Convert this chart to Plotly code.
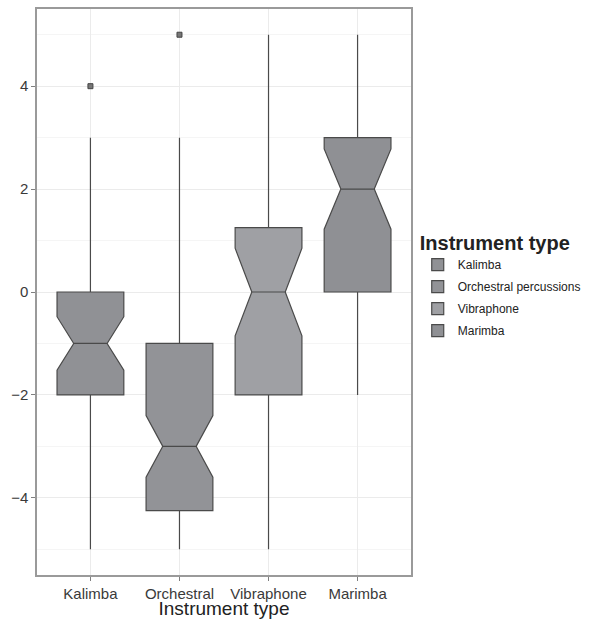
import plotly.graph_objects as go

categories = ["Kalimba", "Orchestral", "Vibraphone", "Marimba"]
legend_names = ["Kalimba", "Orchestral percussions", "Vibraphone", "Marimba"]
q1 = [-2, -4.25, -2, 0]
median = [-1, -3, 0, 2]
q3 = [0, -1, 1.25, 3]
lower = [-5, -5, -5, -2]
upper = [3, 3, 5, 5]
notchspan = [0.52, 0.6, 0.85, 0.78]
outlier_cat = ["Kalimba", "Orchestral"]
outlier_val = [4, 5]
fills = ["#909195", "#929397", "#9fa0a4", "#8f9094"]

fig = go.Figure()
for i, c in enumerate(categories):
    fig.add_trace(go.Box(
        x=[c], q1=[q1[i]], median=[median[i]], q3=[q3[i]],
        lowerfence=[lower[i]], upperfence=[upper[i]], notchspan=[notchspan[i]],
        notched=True, notchwidth=0.25, width=0.75, whiskerwidth=0,
        name=legend_names[i], legendgroup=f"g{i}", fillcolor=fills[i],
        line=dict(color="#4a4a4a", width=1.2), boxpoints=False,
    ))

fig.add_trace(go.Scatter(
    x=outlier_cat, y=outlier_val, mode="markers", showlegend=False,
    marker=dict(symbol="square", size=5, color="#777777",
                line=dict(color="#444444", width=1)),
    hoverinfo="skip",
))

fig.update_layout(
    width=595, height=619,
    margin=dict(l=37, r=184, t=9, b=44),
    plot_bgcolor="white", paper_bgcolor="white",
    font=dict(family="Liberation Sans, Arial, sans-serif", color="#4d4d4d"),
    showlegend=True,
    legend=dict(
        title=dict(text="<b>Instrument type</b>", font=dict(size=20, color="#222222")),
        font=dict(size=12, color="#222222"),
        x=1.018, xanchor="left", y=0.513, yanchor="middle",
        tracegroupgap=3,
        bgcolor="rgba(0,0,0,0)",
    ),
    xaxis=dict(
        categoryorder="array", categoryarray=categories,
        range=[-0.6, 3.6], automargin=False,
        showgrid=True, gridcolor="#ebebeb", gridwidth=1,
        showline=True, linecolor="#9a9a9a", linewidth=1.5, mirror=True,
        ticks="outside", ticklen=4, tickcolor="#7f7f7f",
        tickfont=dict(size=15, color="#3a3a3a"),
        title=dict(text="Instrument type", font=dict(size=19, color="#222222"), standoff=0),
        zeroline=False,
    ),
    yaxis=dict(
        range=[-5.5, 5.5], tick0=0, dtick=2, automargin=False,
        showgrid=True, gridcolor="#ebebeb", gridwidth=1,
        minor=dict(dtick=1, tick0=1, showgrid=True, gridcolor="#f5f5f5", gridwidth=1),
        showline=True, linecolor="#9a9a9a", linewidth=1.5, mirror=True,
        ticks="outside", ticklen=4, tickcolor="#7f7f7f",
        tickfont=dict(size=15, color="#3a3a3a"),
        zeroline=False,
    ),
)

fig.write_html("out.html", config={"displayModeBar": False},
               post_script="document.body.style.margin='0';")
